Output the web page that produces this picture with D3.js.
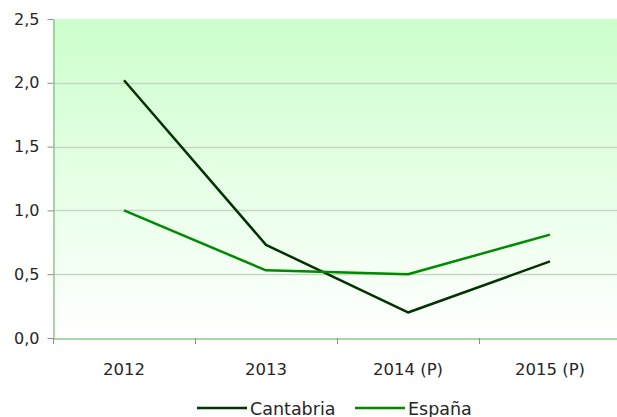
<!DOCTYPE html>
<html>
<head>
<meta charset="utf-8">
<script src="https://cdn.jsdelivr.net/npm/d3@7/dist/d3.min.js"></script>
<style>
  html, body { margin: 0; padding: 0; background: #fff; }
  svg { display: block; font-family: "DejaVu Sans", sans-serif; }
</style>
</head>
<body>
<svg id="chart" width="617" height="417"></svg>
<script>
// Years on the horizontal axis
const categories = ["2012", "2013", "2014 (P)", "2015 (P)"];
// Growth values by series
const cantabria = [2.02, 0.73, 0.20, 0.60];
const espana = [1.00, 0.53, 0.50, 0.81];
// Vertical axis ticks
const yTicks = [0, 0.5, 1.0, 1.5, 2.0, 2.5];

const seriesNames = ["Cantabria", "España"];
const seriesColors = ["#003300", "#008a00"];
const seriesValues = [cantabria, espana];

const svg = d3.select("#chart");
const margin = { left: 53, top: 19, right: -4, bottom: 79 };
const W = 617, H = 417;
const x0 = margin.left, x1 = W - margin.right;
const yTop = margin.top, yBottom = H - margin.bottom;

const x = d3.scaleBand().domain(categories).range([x0, x1]);
const y = d3.scaleLinear().domain([0, 2.5]).range([yBottom, yTop]);

// Plot background gradient
const defs = svg.append("defs");
const grad = defs.append("linearGradient")
  .attr("id", "bg").attr("x1", 0).attr("y1", 0).attr("x2", 0).attr("y2", 1);
grad.append("stop").attr("offset", "0%").attr("stop-color", "#ccffcc");
grad.append("stop").attr("offset", "100%").attr("stop-color", "#ffffff");

svg.append("rect")
  .attr("x", x0).attr("y", yTop)
  .attr("width", x1 - x0).attr("height", yBottom - yTop)
  .attr("fill", "url(#bg)");

// Horizontal gridlines
svg.append("g").selectAll("line")
  .data(yTicks.filter(d => d > 0 && d < 2.5))
  .join("line")
  .attr("x1", x0).attr("x2", x1)
  .attr("y1", d => Math.round(y(d)) + 0.5).attr("y2", d => Math.round(y(d)) + 0.5)
  .attr("stroke", "#c6d6c6").attr("stroke-width", 1.5);

// Y axis
const yAxis = svg.append("g")
  .attr("transform", `translate(${x0 + 0.5},0)`)
  .call(d3.axisLeft(y).tickValues(yTicks).tickSize(6).tickSizeOuter(0)
    .tickFormat(d => d3.format(".1f")(d).replace(".", ",")));
yAxis.attr("font-family", null).attr("font-size", null);
yAxis.select(".domain").attr("stroke", "#8cc88c").attr("stroke-width", 1.5);
yAxis.selectAll(".tick line").attr("stroke", "#8c8c8c");
yAxis.selectAll(".tick text").style("font-size", "16px").attr("fill", "#262626").attr("x", -14);

// X axis
const xAxis = svg.append("g")
  .attr("transform", `translate(0,${yBottom + 0.5})`)
  .call(d3.axisBottom(x).tickSize(0).tickSizeOuter(0));
xAxis.attr("font-family", null).attr("font-size", null);
xAxis.select(".domain").attr("stroke", "#8cc88c").attr("stroke-width", 1.5);
xAxis.selectAll(".tick text").style("font-size", "16.5px").attr("fill", "#262626").attr("dy", "2.05em");
// Category boundary ticks
svg.append("g").selectAll("line")
  .data(categories)
  .join("line")
  .attr("x1", d => Math.round(x(d)) + 0.5).attr("x2", d => Math.round(x(d)) + 0.5)
  .attr("y1", yBottom).attr("y2", yBottom + 6)
  .attr("stroke", "#8c8c8c");

// Series lines
const line = d3.line()
  .x((d, i) => x(categories[i]) + x.bandwidth() / 2)
  .y(d => y(d));

seriesValues.forEach((vals, k) => {
  svg.append("path")
    .datum(vals)
    .attr("d", line)
    .attr("fill", "none")
    .attr("stroke", seriesColors[k])
    .attr("stroke-width", 2.5)
    .attr("stroke-linejoin", "round");
});

// Legend
const legendX = [197, 355];
const legend = svg.append("g");
seriesNames.forEach((name, k) => {
  const g = legend.append("g").attr("transform", `translate(${legendX[k]},408)`);
  g.append("line").attr("x1", 0).attr("x2", 50).attr("y1", 0).attr("y2", 0)
    .attr("stroke", seriesColors[k]).attr("stroke-width", 2.5);
  g.append("text").attr("x", 53).attr("y", 6.5).style("font-size", "17.5px").attr("fill", "#262626").text(name);
});
</script>
</body>
</html>
